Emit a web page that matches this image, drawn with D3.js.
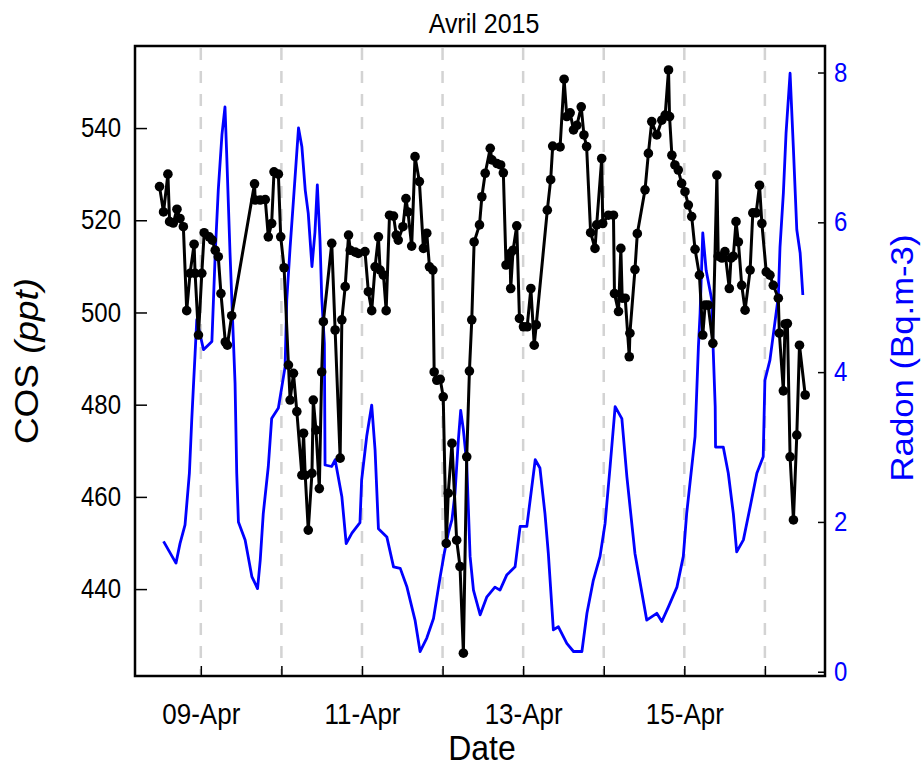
<!DOCTYPE html>
<html><head><meta charset="utf-8">
<script src="https://cdn.jsdelivr.net/npm/d3@7"></script>
<style>body{margin:0;background:#fff} text{font-family:Arial,"Liberation Sans",sans-serif}</style>
</head><body><svg id="c" width="923" height="767"></svg>
<script>
// hours since 2015-04-08 00:00 UTC
const cosHours=[11.7,12.9,14.2,14.7,15.8,16.9,17.8,18.8,19.8,20.8,22.0,22.3,23.3,24.3,25.0,26.5,27.4,28.3,29.2,30.0,31.3,31.9,33.2,
40.0,40.2,41.7,43.2,44.1,45.1,45.8,47.1,47.8,48.8,50.1,50.6,51.6,52.6,54.1,54.6,55.1,56.0,57.1,57.5,58.3,59.3,60.0,60.5,63.0,64.0,65.5,66.0,
67.0,68.0,68.5,70.0,70.9,72.9,73.9,74.9,75.9,76.9,77.4,78.4,79.2,80.2,81.4,82.2,82.8,84.2,85.1,85.7,86.8,87.8,89.1,90.3,91.3,92.1,93.1,93.5,
94.3,95.3,96.2,97.1,97.7,98.8,100.2,101.2,102.2,103.2,104.0,104.7,105.4,107.0,107.7,108.7,110.2,110.7,112.2,113.3,114.1,114.9,116.1,116.3,
117.0,118.1,118.9,120.1,121.2,122.3,123.3,123.9,127.2,128.2,128.8,131.0,132.2,133.0,134.0,135.0,136.0,137.3,138.1,138.9,140.1,141.4,141.9,
143.4,143.7,145.4,146.9,147.2,148.4,149.1,149.5,150.4,151.6,151.8,153.3,154.0,156.3,157.3,158.3,159.8,161.3,162.3,163.3,163.6,164.3,165.2,
166.2,167.2,168.2,169.2,170.2,171.2,172.5,173.5,174.2,175.1,176.5,177.7,178.1,179.2,180.1,181.4,181.9,182.6,183.4,184.1,185.1,186.1,187.6,
188.4,189.4,190.4,191.1,192.4,193.5,194.5,196.0,196.3,197.5,198.0,198.7,199.5,200.5,201.5,202.3,204.0];
const cosValues=[527.3,521.8,530.0,519.7,519.4,522.4,520.4,518.6,500.4,508.5,514.8,508.5,495.1,508.5,517.3,516.4,515.7,513.5,512.1,504.1,493.6,492.9,499.3,
527.9,524.4,524.4,524.5,516.4,519.3,530.5,530.0,516.4,509.7,488.6,481.0,486.8,478.5,464.7,473.8,464.7,452.8,465.1,481.0,474.5,461.8,487.1,498.0,515.0,496.2,468.4,498.4,
505.6,516.8,513.5,513.1,512.8,513.2,504.5,500.4,509.9,516.4,509.2,508.1,500.4,521.1,520.9,516.8,515.7,518.6,524.7,521.8,514.4,533.8,528.4,513.9,517.2,509.9,509.2,487.1,
485.3,485.5,481.7,449.9,460.8,471.6,450.6,444.9,426.1,468.7,487.3,498.4,515.3,519.0,525.1,530.2,535.6,533.1,532.3,532.0,530.3,510.3,512.8,505.2,
513.5,518.8,498.7,496.9,496.9,505.2,492.9,497.3,522.2,528.8,536.1,535.9,550.6,542.5,543.3,539.6,540.6,544.6,538.5,536.0,517.3,513.9,519.0,
533.4,519.3,521.1,521.1,504.1,500.2,513.9,503.1,503.1,490.4,495.5,509.3,517.1,526.6,534.5,541.4,538.5,541.7,542.8,552.6,542.5,534.1,532.0,
530.9,528.0,526.2,523.3,520.8,513.7,508.1,495.1,501.6,501.6,493.3,529.8,512.2,511.8,513.2,505.2,511.8,512.2,519.7,515.3,505.9,500.5,509.2,
521.6,521.6,527.6,519.3,508.8,508.1,505.9,503.1,495.5,483.0,497.5,497.6,468.7,455.0,473.4,492.9,482.1];
const radonHours=[12.9,16.6,17.8,19.3,20.6,21.3,21.8,22.3,22.8,24.8,27.3,28.3,29.2,30.3,31.2,31.7,32.7,33.7,34.2,34.7,35.2,37.2,39.2,40.9,41.7,42.6,
44.1,45.1,47.1,49.1,49.6,50.6,51.6,53.1,54.1,55.1,56.0,57.1,58.0,58.7,59.5,60.0,60.8,61.0,63.0,64.0,66.0,67.3,69.0,71.4,71.9,73.4,74.9,75.9,
76.9,79.4,81.4,83.4,85.4,87.8,89.3,91.3,93.3,95.3,96.5,97.7,98.8,99.7,100.7,101.4,102.2,103.2,104.2,105.2,107.2,109.2,111.6,113.1,115.1,117.6,
119.1,121.1,123.6,125.0,126.5,127.5,129.0,130.5,133.0,135.0,137.5,139.0,140.9,142.9,144.4,145.9,147.4,149.4,150.9,153.3,156.8,159.8,161.3,
163.3,165.8,167.7,168.7,171.2,172.2,172.7,173.5,174.5,176.2,176.5,177.2,177.3,179.6,181.1,182.6,183.6,185.6,187.6,189.6,191.5,192.0,193.5,
196.0,196.5,197.5,198.3,199.5,200.5,201.5,202.5,203.3];
const radonValues=[1.74,1.45,1.71,1.96,2.65,3.36,3.81,4.25,4.70,4.30,4.41,5.59,6.43,7.17,7.54,6.92,5.59,4.43,3.85,2.65,2.00,1.76,1.27,1.11,1.49,2.11,
2.74,3.38,3.52,4.07,4.96,5.67,6.30,7.26,7.01,6.43,6.12,5.41,5.87,6.50,5.76,5.01,4.38,2.76,2.74,2.83,2.34,1.71,1.85,1.99,2.56,3.14,3.56,2.96,
1.91,1.80,1.40,1.38,1.13,0.69,0.27,0.45,0.71,1.27,1.58,1.85,2.03,2.38,3.09,3.49,3.23,2.78,1.54,1.09,0.76,1.00,1.13,1.09,1.29,1.40,
1.94,1.94,2.83,2.72,2.11,1.58,0.56,0.60,0.38,0.27,0.27,0.78,1.22,1.54,1.98,2.74,3.54,3.38,2.60,1.58,0.69,0.78,0.67,
0.87,1.13,1.54,2.11,3.14,4.34,4.79,5.86,5.36,4.96,4.43,3.54,3.00,3.00,2.65,2.11,1.60,1.76,2.20,2.65,2.87,3.89,4.16,
5.01,5.67,6.39,7.19,7.99,6.97,5.90,5.59,5.03];
const dayTicks=["2015-04-09","2015-04-10","2015-04-11","2015-04-12","2015-04-13","2015-04-14","2015-04-15","2015-04-16"];
const dayLabels=["09-Apr","","11-Apr","","13-Apr","","15-Apr",""];
const cosTicks=[440,460,480,500,520,540];
const radonTicks=[0,2,4,6,8];

const base=Date.UTC(2015,3,8);
const hToDate=h=>new Date(base+h*3600e3);
const L=135,R=825,T=46,B=676, S=1.12; // S: vertical stretch of glyphs
const svg=d3.select("#c");
const x=d3.scaleUtc().domain([hToDate(4.4),hToDate(209.9)]).range([L,R]);
const yL=d3.scaleLinear().domain([421.15,557.8]).range([B,T]);
const yR=d3.scaleLinear().domain([-0.057,8.354]).range([B,T]);
const ticks=dayTicks.map(s=>new Date(s+"T00:00:00Z"));

// grid
svg.append("g").selectAll("line").data(ticks).join("line")
  .attr("x1",d=>x(d)).attr("x2",d=>x(d)).attr("y1",T+2).attr("y2",B-2)
  .attr("stroke","#d3d3d3").attr("stroke-width",2.5).attr("stroke-dasharray","12,11");

// radon line
const radon=radonHours.map((h,i)=>({d:hToDate(h),v:radonValues[i]}));
svg.append("path").datum(radon)
  .attr("d",d3.line().x(d=>x(d.d)).y(d=>yR(d.v)))
  .attr("fill","none").attr("stroke","#0000ff").attr("stroke-width",2.8).attr("stroke-linejoin","round");

// cos line
const cos=cosHours.map((h,i)=>({d:hToDate(h),v:cosValues[i]}));
svg.append("path").datum(cos)
  .attr("d",d3.line().x(d=>x(d.d)).y(d=>yL(d.v)))
  .attr("fill","none").attr("stroke","#000").attr("stroke-width",3).attr("stroke-linejoin","round");
svg.append("g").selectAll("circle").data(cos).join("circle")
  .attr("cx",d=>x(d.d)).attr("cy",d=>yL(d.v)).attr("r",4.8).attr("fill","#000");

// frame
svg.append("rect").attr("x",L).attr("y",T).attr("width",R-L).attr("height",B-T)
  .attr("fill","none").attr("stroke","#000").attr("stroke-width",2.5);

// axes
const xAxis=d3.axisBottom(x).tickValues(ticks).tickSize(-10).tickFormat((d,i)=>dayLabels[i]);
const gx=svg.append("g").attr("transform",`translate(0,${B})`).call(xAxis);
gx.select(".domain").remove();
gx.selectAll(".tick line").attr("stroke","#000").attr("stroke-width",1.5);
gx.selectAll("text").attr("font-size",26).attr("fill","#000")
  .attr("y",48/S).attr("dy",0).attr("transform",`scale(1,${S})`);

const gl=svg.append("g").attr("transform",`translate(${L},0)`).call(d3.axisLeft(yL).tickValues(cosTicks).tickSize(-12).tickPadding(14));
gl.select(".domain").remove();
gl.selectAll(".tick line").attr("stroke","#000").attr("stroke-width",1.5);
gl.selectAll("text").attr("font-size",24).attr("fill","#000").attr("transform",`scale(1,${S})`);

const gr=svg.append("g").attr("transform",`translate(${R},0)`).call(d3.axisRight(yR).tickValues(radonTicks).tickSize(-7).tickPadding(9));
gr.select(".domain").remove();
gr.selectAll(".tick line").attr("stroke","#000").attr("stroke-width",1.5);
gr.selectAll("text").attr("font-size",24).attr("fill","#0000ff").attr("transform",`scale(1,${S})`);

// titles
svg.append("text").attr("transform",`translate(484,33) scale(1,${S})`).attr("text-anchor","middle").attr("font-size",25).text("Avril 2015");
svg.append("text").attr("transform",`translate(482,760) scale(1,${S})`).attr("text-anchor","middle").attr("font-size",32).text("Date");
const yl=svg.append("text").attr("transform",`translate(38,361) rotate(-90) scale(${S},1)`).attr("text-anchor","middle").attr("font-size",33);
yl.append("tspan").text("COS ");
yl.append("tspan").attr("font-style","italic").text("(ppt)");
svg.append("text").attr("transform",`translate(913,358) rotate(-90) scale(${S},1)`).attr("text-anchor","middle")
  .attr("font-size",31).attr("fill","#0000ff").text("Radon (Bq.m-3)");
</script></body></html>
